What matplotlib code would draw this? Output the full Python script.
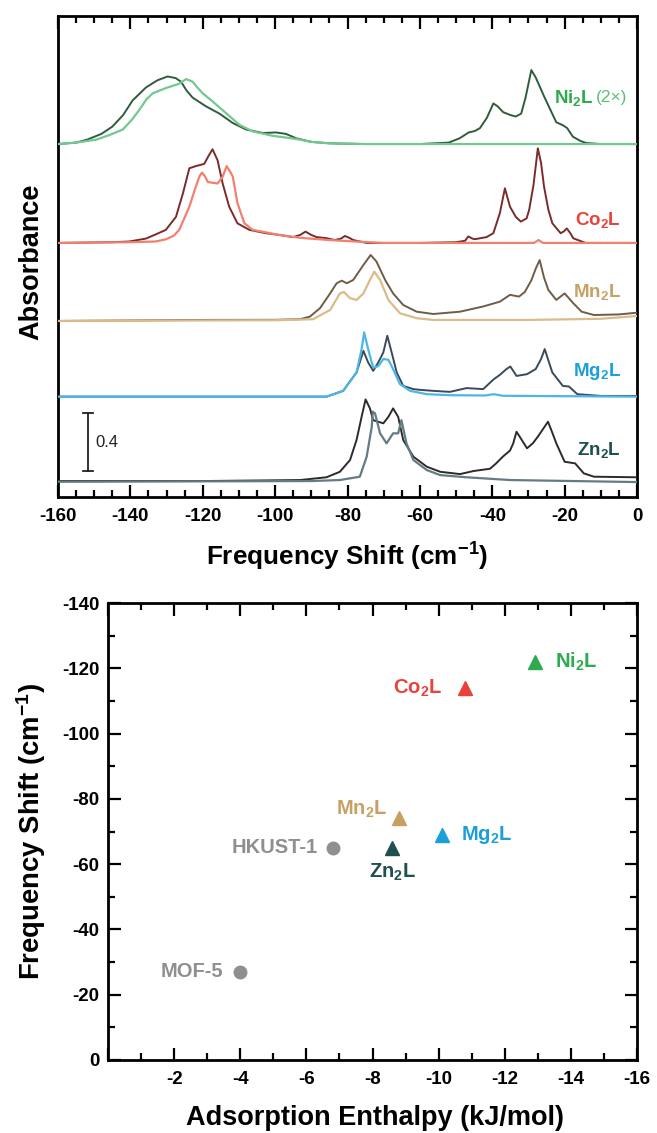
import matplotlib
matplotlib.use('Agg')
import matplotlib.pyplot as plt
from matplotlib.ticker import MultipleLocator, FixedLocator, FuncFormatter

plt.rcParams['font.family'] = ['Liberation Sans', 'DejaVu Sans']
plt.rcParams['font.weight'] = 'bold'
plt.rcParams['mathtext.fontset'] = 'custom'
plt.rcParams['mathtext.rm'] = 'Liberation Sans:bold'
plt.rcParams['mathtext.bf'] = 'Liberation Sans:bold'
plt.rcParams['mathtext.it'] = 'Liberation Sans:bold'
plt.rcParams['mathtext.default'] = 'bf'
plt.rcParams['axes.unicode_minus'] = False

# ---------------- spectra data (frequency shift cm-1, absorbance above baseline) ----
ni_dark = [(-160, 0), (-155, 0.01), (-152, 0.03), (-148, 0.07), (-145, 0.12), (-142, 0.2),
           (-139.4, 0.30), (-135.7, 0.39), (-132.5, 0.44), (-129.7, 0.466), (-127.5, 0.455),
           (-126, 0.43), (-124.5, 0.37), (-122.8, 0.32), (-119.1, 0.26), (-115.4, 0.21),
           (-111.7, 0.145), (-108, 0.10), (-103.4, 0.076), (-99.8, 0.08), (-97, 0.07),
           (-94.2, 0.04), (-90, 0.015), (-85, 0.005), (-75, 0), (-60, 0), (-52, 0.01),
           (-49, 0.04), (-46.5, 0.08), (-44.8, 0.09), (-43.4, 0.11), (-41.5, 0.18),
           (-39.7, 0.28), (-38.5, 0.26), (-37, 0.22), (-35, 0.20), (-33.5, 0.19), (-32, 0.21),
           (-30.8, 0.32), (-29.2, 0.51), (-28, 0.46), (-25.7, 0.33), (-24, 0.24), (-22.3, 0.15),
           (-20.5, 0.13), (-19.3, 0.11), (-17.7, 0.05), (-15.5, 0.02), (-14, 0.007), (-10, 0), (0, 0)]
ni_light = [(-160, 0), (-155, 0.01), (-149.5, 0.03), (-146, 0.06), (-142.1, 0.10), (-139.5, 0.17),
            (-137.5, 0.237), (-135.5, 0.31), (-133.8, 0.35), (-130.2, 0.386), (-126.5, 0.416),
            (-124.6, 0.448), (-122.8, 0.43), (-121.5, 0.39), (-120, 0.35), (-117.3, 0.294),
            (-113.6, 0.214), (-109.9, 0.133), (-106.2, 0.087), (-100.7, 0.057), (-94.2, 0.035),
            (-90, 0.015), (-85, 0.005), (-75, 0), (0, 0)]

co_dark = [(-160, 0), (-145, 0.005), (-140.3, 0.01), (-135.7, 0.03), (-132.9, 0.06), (-130.2, 0.09),
           (-127.4, 0.18), (-125.5, 0.34), (-123.7, 0.515), (-121.9, 0.53), (-119.6, 0.545),
           (-118.4, 0.6), (-117.3, 0.646), (-115.9, 0.57), (-114.5, 0.41), (-112.7, 0.25),
           (-110.4, 0.135), (-107.1, 0.09), (-102.5, 0.067), (-98.8, 0.055), (-95, 0.04),
           (-93.1, 0.055), (-91.6, 0.078), (-90, 0.055), (-88.5, 0.04), (-85.8, 0.033),
           (-83.5, 0.02), (-81.8, 0.03), (-80.7, 0.048), (-79.5, 0.035), (-78.4, 0.02),
           (-74.7, 0), (-60, 0), (-50, 0.005), (-47.5, 0.015), (-46.6, 0.045), (-45.5, 0.03),
           (-44.8, 0.026), (-41.6, 0.04), (-39.7, 0.067), (-37.9, 0.205), (-36.5, 0.377),
           (-35.1, 0.25), (-33.5, 0.18), (-32.1, 0.147), (-30.5, 0.17), (-29.8, 0.228),
           (-28.6, 0.4), (-27.4, 0.653), (-26.5, 0.55), (-25.7, 0.39), (-24.5, 0.23),
           (-23.4, 0.136), (-21.1, 0.067), (-20.2, 0.08), (-19.4, 0.1), (-18.5, 0.07),
           (-17.6, 0.032), (-14.2, 0), (0, 0)]
co_light = [(-160, 0), (-140, 0.005), (-133, 0.01), (-130.2, 0.025), (-128, 0.05), (-126.5, 0.09),
            (-123.7, 0.25), (-121.9, 0.39), (-120.9, 0.46), (-120.2, 0.485), (-119.4, 0.46),
            (-118.6, 0.42), (-115.9, 0.41), (-114.5, 0.457), (-113.4, 0.53), (-112.4, 0.49),
            (-111.7, 0.457), (-110.4, 0.274), (-108.5, 0.136), (-106.2, 0.09), (-98.8, 0.055),
            (-93, 0.035), (-85, 0.02), (-78, 0.01), (-70, 0), (-28.5, 0), (-27.2, 0.02),
            (-26, 0), (0, 0)]

mn_dark = [(-160, 0), (-121, 0.007), (-100, 0.008), (-93.1, 0.012), (-90.4, 0.03), (-87.6, 0.088),
           (-84.8, 0.19), (-83, 0.26), (-81.6, 0.278), (-80.2, 0.26), (-78.4, 0.283),
           (-75.6, 0.386), (-73.6, 0.455), (-72, 0.41), (-69.6, 0.283), (-67.4, 0.19),
           (-64.6, 0.11), (-60.9, 0.064), (-56.3, 0.048), (-48.9, 0.064), (-42.5, 0.1),
           (-37.9, 0.133), (-35.1, 0.18), (-32.6, 0.168), (-31, 0.2), (-29.2, 0.28),
           (-28, 0.36), (-26.9, 0.42), (-25.7, 0.3), (-24.5, 0.214), (-22.3, 0.145),
           (-20, 0.19), (-17.6, 0.122), (-15.3, 0.064), (-11.9, 0.041), (-5, 0.045), (0, 0.057)]
mn_light = [(-160, 0), (-100, 0.005), (-89.5, 0.012), (-84.8, 0.076), (-82.1, 0.19), (-81, 0.2),
            (-79.3, 0.157), (-77.5, 0.145), (-75.6, 0.19), (-73.8, 0.283), (-72.6, 0.34),
            (-71, 0.283), (-68.7, 0.145), (-65.5, 0.053), (-60.9, 0.019), (-56.3, 0.007),
            (-30, 0.007), (-10, 0.015), (0, 0.034)]

mg_dark = [(-160, 0), (-85.8, 0), (-81.2, 0.04), (-77.5, 0.167), (-75.6, 0.316), (-74.3, 0.236),
           (-72.9, 0.178), (-71.5, 0.236), (-70.1, 0.305), (-69, 0.42), (-67.8, 0.305),
           (-66.4, 0.167), (-64.6, 0.074), (-61.8, 0.052), (-60, 0.047), (-56.3, 0.04),
           (-51.7, 0.033), (-47.1, 0.059), (-42.5, 0.052), (-39.6, 0.12), (-37.9, 0.15),
           (-36.1, 0.19), (-35, 0.208), (-33.3, 0.143), (-30.4, 0.155), (-28, 0.19),
           (-26.5, 0.26), (-25.5, 0.328), (-24.5, 0.25), (-23.4, 0.167), (-20.5, 0.074),
           (-18.8, 0.07), (-16.5, 0.017), (-10, 0.005), (0, 0.005)]
mg_light = [(-160, 0), (-85.8, 0), (-81.2, 0.04), (-77.5, 0.167), (-76.1, 0.328), (-75.4, 0.443),
            (-74.3, 0.328), (-72.9, 0.2), (-71.5, 0.21), (-70.1, 0.26), (-68.7, 0.254),
            (-67.4, 0.19), (-65.5, 0.086), (-62.7, 0.04), (-58.1, 0.017), (-51.7, 0.01),
            (-42, 0.008), (-39.6, 0.017), (-37, 0.006), (0, 0)]

zn_dark = [(-160, 0), (-120, 0), (-93.1, 0.007), (-85.8, 0.026), (-82.1, 0.064), (-79.3, 0.145),
           (-77.5, 0.283), (-76.1, 0.443), (-75, 0.563), (-73.8, 0.501), (-72.9, 0.42),
           (-71.5, 0.409), (-70.1, 0.398), (-68.7, 0.443), (-67.4, 0.501), (-66, 0.443),
           (-64.6, 0.283), (-61.8, 0.168), (-58.1, 0.099), (-54.4, 0.064), (-48.9, 0.048),
           (-45.2, 0.069), (-40.6, 0.085), (-39, 0.12), (-37, 0.17), (-35.1, 0.21),
           (-34.2, 0.26), (-33.3, 0.34), (-32, 0.29), (-30.4, 0.226), (-28.8, 0.26),
           (-27.4, 0.306), (-24.6, 0.409), (-23.5, 0.34), (-22.3, 0.26), (-20, 0.133),
           (-17.1, 0.122), (-14.7, 0.053), (-11.9, 0.03), (0, 0.026)]
zn_light = [(-160, -0.005), (-90, 0), (-82.1, 0.007), (-76.6, 0.03), (-74.7, 0.168),
            (-73.3, 0.374), (-73.0, 0.478), (-72.4, 0.467), (-71, 0.329), (-69.2, 0.26),
            (-67.4, 0.329), (-66, 0.329), (-65.1, 0.42), (-63.7, 0.26), (-61.8, 0.145),
            (-58.1, 0.076), (-54.4, 0.041), (-47.1, 0.026), (-35.1, 0.007), (0, -0.007)]

spectrum_names = ['Ni$_2$L', 'Co$_2$L', 'Mn$_2$L', 'Mg$_2$L', 'Zn$_2$L']
spectrum_offsets = [2.434, 1.752, 1.214, 0.692, 0.110]
label_heights = [2.752, 1.91, 1.416, 0.864, 0.324]
scale_bar_value = 0.4

# ---------------- scatter data ----------------
materials = ['Ni$_2$L', 'Co$_2$L', 'Mn$_2$L', 'Mg$_2$L', 'Zn$_2$L', 'HKUST-1', 'MOF-5']
enthalpy = [-12.9, -10.8, -8.8, -10.1, -8.6, -6.8, -4.0]
freq_shift = [-122, -114, -74, -69, -65, -65, -27]

# ---------------- styles ----------------
dark_cols = ['#2f5d3c', '#7a2b2b', '#6e5c48', '#3a4a58', '#2b2b2b']
light_cols = ['#72c890', '#f2806e', '#dcbb8a', '#4db6e8', '#637c84']
label_cols = ['#2eaa50', '#e8423b', '#c9a064', '#1c9fd8', '#1f4f4e']
scatter_cols = ['#2eaa50', '#e8423b', '#c9a064', '#1c9fd8', '#1f4f4e', '#8f8f8f', '#8f8f8f']
scatter_markers = ['^', '^', '^', '^', '^', 'o', 'o']
label_offsets = [(20, 0, 'left', 'center'), (-23, 0, 'right', 'center'),
                 (-12, 9, 'right', 'center'), (19, 0, 'left', 'center'),
                 (0, -25, 'center', 'center'), (-15, 0, 'right', 'center'),
                 (-17, 0, 'right', 'center')]

fig = plt.figure(figsize=(6.57, 11.33), dpi=100)

# ======== top panel ========
ax1 = fig.add_axes([58/657, 1-497/1133, 579/657, 481/1133])
all_dark = [ni_dark, co_dark, mn_dark, mg_dark, zn_dark]
all_light = [ni_light, co_light, mn_light, mg_light, zn_light]
for i in range(5):
    off = spectrum_offsets[i]
    xd, yd = zip(*all_dark[i])
    xl, yl = zip(*all_light[i])
    ax1.plot(xd, [v + off for v in yd], color=dark_cols[i], lw=1.4, zorder=3,
             solid_joinstyle='round')
    ax1.plot(xl, [v + off for v in yl], color=light_cols[i], lw=1.6, zorder=4,
             solid_joinstyle='round')
    ax1.text(-4.4 if i > 0 else -23.0, label_heights[i], spectrum_names[i],
             color=label_cols[i], fontsize=13.5, fontweight='bold',
             ha='right' if i > 0 else 'left', va='center')
ax1.text(-11.3, label_heights[0], '(2×)', color='#5cbf78', fontsize=12.5,
         fontweight='normal', ha='left', va='center')

# scale bar
sb_x, sb_y0 = -151.7, 0.179
ax1.plot([sb_x, sb_x], [sb_y0, sb_y0 + scale_bar_value], color='#222222', lw=1.3)
ax1.plot([sb_x - 1.4, sb_x + 1.4], [sb_y0, sb_y0], color='#222222', lw=1.3)
ax1.plot([sb_x - 1.4, sb_x + 1.4], [sb_y0 + scale_bar_value] * 2, color='#222222', lw=1.3)
ax1.text(sb_x + 2.0, sb_y0 + scale_bar_value / 2, str(scale_bar_value), fontsize=12,
         fontweight='normal', ha='left', va='center', color='#222222')

ax1.set_xlim(-160, 0)
ax1.set_ylim(0, 3.317)
ax1.set_yticks([])
ax1.xaxis.set_major_locator(MultipleLocator(20))
ax1.xaxis.set_minor_locator(MultipleLocator(5))
ax1.tick_params(axis='x', which='both', direction='in', top=True, bottom=True, width=1.6,
                labelsize=13.5, pad=8)
ax1.tick_params(axis='x', which='major', length=9)
ax1.tick_params(axis='x', which='minor', length=5)
for s in ax1.spines.values():
    s.set_linewidth(2.0)

fig.text(347.5/657, 1-557/1133, 'Frequency Shift (cm$^{-1}$)', fontsize=18.8,
         fontweight='bold', ha='center', va='center')
fig.text(31/657, 1-262/1133, 'Absorbance', fontsize=19.5, fontweight='bold',
         rotation=90, ha='center', va='center')

# ======== bottom panel ========
ax2 = fig.add_axes([108/657, 1-1060/1133, 529/657, 457/1133])
for i in range(len(materials)):
    ax2.plot(enthalpy[i], freq_shift[i], marker=scatter_markers[i], color=scatter_cols[i],
             ms=10 if scatter_markers[i] == '^' else 9, linestyle='none')
    dx, dy, ha, va = label_offsets[i]
    ax2.annotate(materials[i], (enthalpy[i], freq_shift[i]), xytext=(dx, dy),
                 textcoords='offset pixels', color=scatter_cols[i], fontsize=14.5,
                 fontweight='bold', ha=ha, va=va)

ax2.set_xlim(0, -16)
ax2.set_ylim(0, -140)
ax2.xaxis.set_major_locator(FixedLocator([0, -2, -4, -6, -8, -10, -12, -14, -16]))
ax2.xaxis.set_major_formatter(FuncFormatter(lambda v, p: '' if v == 0 else '%d' % v))
ax2.xaxis.set_minor_locator(MultipleLocator(1))
ax2.yaxis.set_major_locator(MultipleLocator(20))
ax2.yaxis.set_minor_locator(MultipleLocator(10))
ax2.tick_params(axis='both', which='both', direction='in', top=True, bottom=True,
                left=True, right=True, width=1.6, labelsize=13.5)
ax2.tick_params(axis='x', which='major', pad=8)
ax2.tick_params(axis='y', which='major', pad=6)
ax2.tick_params(which='major', length=9)
ax2.tick_params(which='minor', length=5)
for s in ax2.spines.values():
    s.set_linewidth(2.0)

fig.text(374.5/657, 1-1118/1133, 'Adsorption Enthalpy (kJ/mol)', fontsize=19.5,
         fontweight='bold', ha='center', va='center')
fig.text(31/657, 1-831/1133, 'Frequency Shift (cm$^{-1}$)', fontsize=19.8,
         fontweight='bold', rotation=90, ha='center', va='center')

fig.savefig('out.png', dpi=100)
